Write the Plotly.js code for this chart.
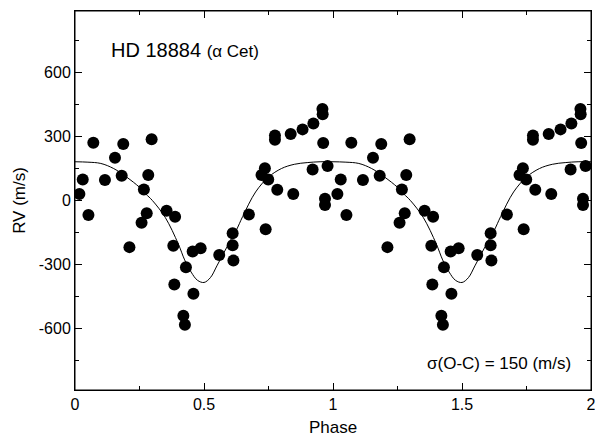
<!DOCTYPE html>
<html>
<head>
<meta charset="utf-8">
<script src="https://cdn.plot.ly/plotly-3.0.1.min.js"></script>
<style>html,body{margin:0;padding:0;background:#fff}#chart{width:595px;height:446px}</style>
</head>
<body>
<div id="chart"></div>
<script>
// Observed RV data, phase-folded (0..1); drawn twice (phase and phase+1)
const phase = [0.017,0.030,0.052,0.071,0.116,0.155,0.181,0.187,0.211,0.258,0.267,0.278,0.284,0.297,0.355,0.381,0.385,0.388,0.420,0.426,0.430,0.456,0.459,0.487,0.559,0.611,0.611,0.614,0.674,0.723,0.736,0.739,0.749,0.775,0.775,0.784,0.836,0.846,0.882,0.921,0.924,0.959,0.960,0.962,0.969,0.969,0.979];
const rv    = [30,99,-68,271,96,201,116,265,-219,-104,52,-60,120,288,-48,-212,-395,-76,-541,-584,-313,-240,-438,-224,-256,-154,-210,-282,-66,120,151,-135,99,305,285,50,312,30,334,146,362,430,405,270,8,-21,162];
// Orbit fit curve (phase 0..1)
const fitPhase = [0,0.05,0.10,0.15,0.20,0.25,0.275,0.30,0.35,0.40,0.425,0.45,0.475,0.50,0.525,0.55,0.575,0.60,0.625,0.65,0.70,0.75,0.80,0.85,0.90,0.95,1.0];
const fitRV    = [182,180,174,150,110,62,30,0,-80,-203,-279,-336,-375,-385,-362,-307,-250,-193,-140,-75,40,110,150,170,178,182,182];
const xTicks = [0,0.5,1,1.5,2];
const xTickText = ['0','0.5','1','1.5','2'];
const yTicks = [-600,-300,0,300,600];
const yTickText = ['-600','-300','0','300','600'];

const px = phase.concat(phase.map(p => p + 1));
const py = rv.concat(rv);
const fx = fitPhase.concat(fitPhase.slice(1).map(p => p + 1));
const fy = fitRV.concat(fitRV.slice(1));

const font = 'Liberation Sans, Arial, sans-serif';
const data = [
  {x: fx, y: fy, mode: 'lines', type: 'scatter', line: {color: '#000', width: 1, shape: 'spline', smoothing: 1}, hoverinfo: 'skip', cliponaxis: true},
  {x: px, y: py, mode: 'markers', type: 'scatter', marker: {color: '#000', size: 12}, cliponaxis: true}
];
const axCommon = {
  showgrid: false, zeroline: false, showline: true, linecolor: '#000', linewidth: 1,
  mirror: 'allticks', ticks: 'inside', ticklen: 7, tickcolor: '#000', tickwidth: 1,
  ticklabeloverflow: 'allow',
  tickfont: {family: font, size: 16, color: '#000'}
};
const layout = {
  width: 595, height: 446,
  margin: {l: 75, r: 4, t: 11, b: 56},
  paper_bgcolor: '#fff', plot_bgcolor: '#fff',
  showlegend: false,
  font: {family: font, color: '#000'},
  xaxis: Object.assign({}, axCommon, {
    range: [0, 2], tickmode: 'array', tickvals: xTicks, ticktext: xTickText,
    minor: {dtick: 0.25, tick0: 0, ticks: 'inside', ticklen: 4, tickcolor: '#000'},
    title: {text: 'Phase', font: {family: font, size: 17, color: '#000'}, standoff: 8}
  }),
  yaxis: Object.assign({}, axCommon, {
    range: [-890, 890], tickmode: 'array', tickvals: yTicks, ticktext: yTickText,
    minor: {dtick: 150, tick0: 0, ticks: 'inside', ticklen: 4, tickcolor: '#000'},
    title: {text: 'RV (m/s)', font: {family: font, size: 17, color: '#000'}, standoff: 8}
  }),
  shapes: [
    {type: 'rect', xref: 'paper', yref: 'paper', x0: 0, x1: 1, y0: 0, y1: 1, line: {color: '#000', width: 1}, layer: 'above'}
  ],
  annotations: [
    {xref: 'paper', yref: 'paper', x: 0.066, y: 0.897, xanchor: 'left', yanchor: 'middle', showarrow: false,
     text: 'HD 18884 <span style="font-size:17px">(α Cet)</span>', font: {family: font, size: 20, color: '#000'}},
    {xref: 'paper', yref: 'paper', x: 0.966, y: 0.071, xanchor: 'right', yanchor: 'middle', showarrow: false,
     text: 'σ(O-C) = 150 (m/s)', font: {family: font, size: 17, color: '#000'}}
  ]
};
Plotly.newPlot('chart', data, layout, {displayModeBar: false, staticPlot: true});
</script>
</body>
</html>
